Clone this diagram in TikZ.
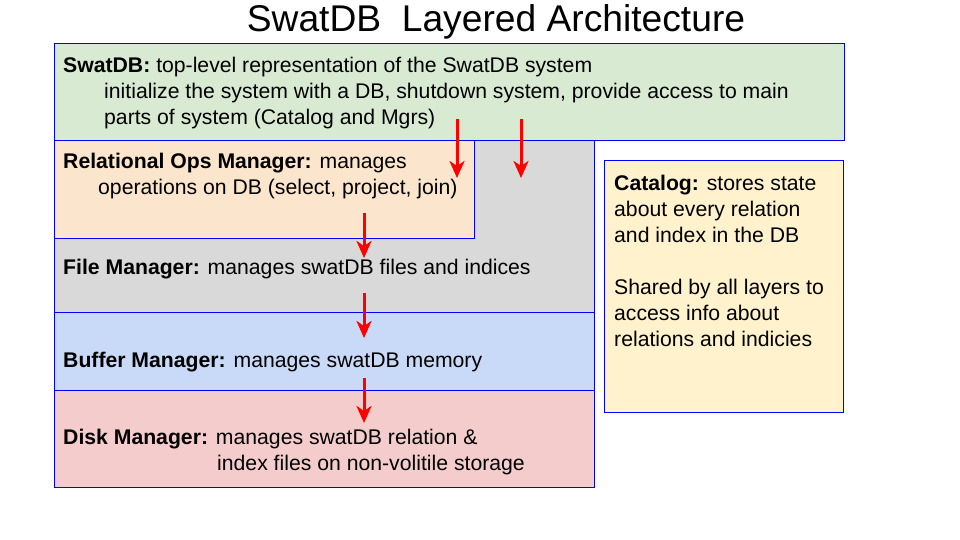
\documentclass[tikz,border=0pt]{standalone}
\usepackage{fontspec}
\setmainfont{Liberation Sans}
\usetikzlibrary{arrows.meta}
\definecolor{swatgreen}{HTML}{D9EAD3}
\definecolor{opspeach}{HTML}{FCE5CD}
\definecolor{filegray}{HTML}{D9D9D9}
\definecolor{bufblue}{HTML}{C9DAF8}
\definecolor{diskred}{HTML}{F4CCCC}
\definecolor{catyellow}{HTML}{FFF2CC}
\definecolor{edgeblue}{HTML}{0000FF}
\definecolor{flowred}{HTML}{FF0000}

\begin{document}
\begin{tikzpicture}[x=1pt,y=-1pt,
    layer/.style={draw=edgeblue,line width=1pt},
    txt/.style={anchor=base west,align=left,inner sep=0pt,font=\fontsize{21.2}{26}\selectfont},
    flow/.style={flowred,line width=3pt,-{Stealth[length=17pt,width=15pt,inset=5pt]}}]
    \useasboundingbox (0,0) rectangle (960,540);

    % Title
    \node (title) at (496,22) {\fontsize{37.2}{40}\selectfont SwatDB\ \ Layered Architecture};

    % Layers
    \filldraw[layer,fill=filegray] (54,141) rectangle (594,312);
    \filldraw[layer,fill=opspeach] (54,141) rectangle (474,238);
    \filldraw[layer,fill=swatgreen] (54,44) rectangle (844,141);
    \filldraw[layer,fill=bufblue] (54,312) rectangle (594,390);
    \filldraw[layer,fill=diskred] (54,390) rectangle (594,487);
    \filldraw[layer,fill=catyellow] (604,161) rectangle (843,412);

    % Layer texts (base = last line)
    \node[txt] (swatdb) at (63,125) {\textbf{SwatDB:} top-level representation of the SwatDB system\\
        \hspace*{41pt}initialize the system with a DB, shutdown system, provide access to main\\
        \hspace*{41pt}parts of system (Catalog and Mgrs)};
    \node[txt] (relops) at (63,194) {\textbf{Relational Ops Manager:} manages\\
        \hspace*{35pt}operations on DB (select, project, join)};
    \node[txt] (filemgr) at (63,274) {\textbf{File Manager:} manages swatDB files and indices};
    \node[txt] (bufmgr) at (63,367) {\textbf{Buffer Manager:} manages swatDB memory};
    \node[txt] (diskmgr) at (63,470) {\textbf{Disk Manager:} manages swatDB relation \&\\
        \hspace*{154pt}index files on non-volitile storage};
    \node[txt] (catalog) at (614,346) {\textbf{Catalog:} stores state\\
        about every relation\\
        and index in the DB\\[26pt]
        Shared by all layers to\\
        access info about\\
        relations and indicies};

    % Calls between layers
    \coordinate (swatA) at (457,119);
    \coordinate (opsA) at (457,178);
    \coordinate (swatB) at (521,119);
    \coordinate (fileB) at (521,178);
    \coordinate (opsC) at (364,213);
    \coordinate (fileC) at (364,258);
    \coordinate (fileD) at (364,293);
    \coordinate (bufD) at (364,338);
    \coordinate (bufE) at (364,378);
    \coordinate (diskE) at (364,423);
    \draw[flow] (swatA) -- (opsA);
    \draw[flow] (swatB) -- (fileB);
    \draw[flow] (opsC) -- (fileC);
    \draw[flow] (fileD) -- (bufD);
    \draw[flow] (bufE) -- (diskE);
\end{tikzpicture}
\end{document}
